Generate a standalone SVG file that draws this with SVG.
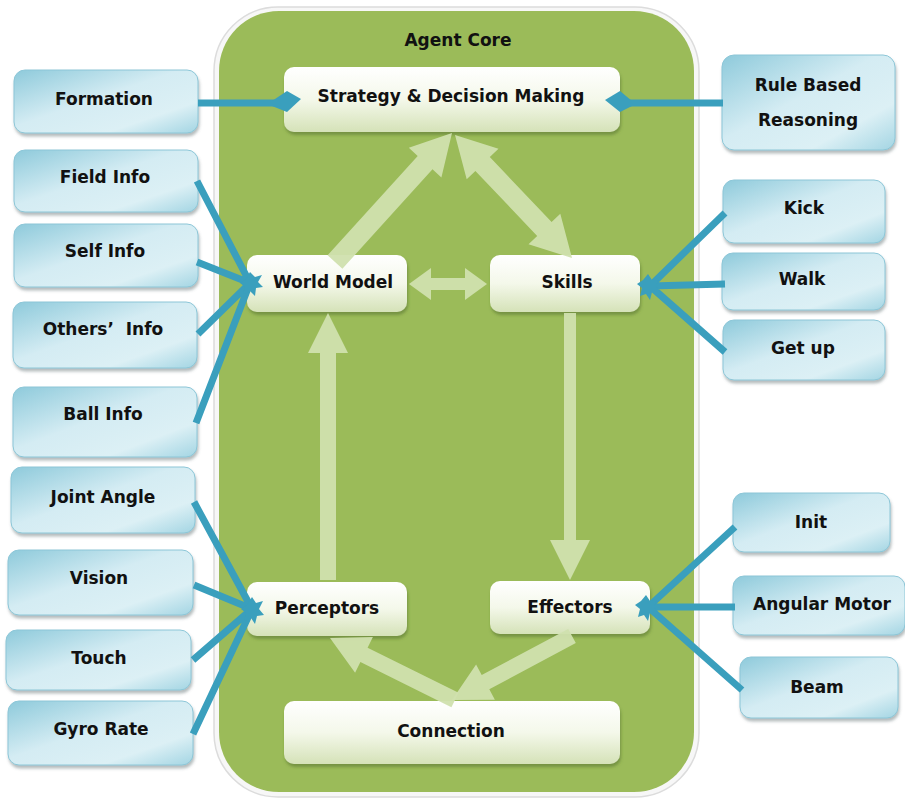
<svg xmlns="http://www.w3.org/2000/svg" width="905" height="801" viewBox="0 0 905 801">
<defs>
  <linearGradient id="blueG" x1="0" y1="0" x2="1" y2="1">
    <stop offset="0" stop-color="#8ecadb"/>
    <stop offset="0.45" stop-color="#d4ecf3"/>
    <stop offset="0.75" stop-color="#dcf0f5"/>
    <stop offset="1" stop-color="#a3d5e3"/>
  </linearGradient>
  <linearGradient id="creamG" x1="0" y1="0" x2="0" y2="1">
    <stop offset="0" stop-color="#ffffff"/>
    <stop offset="0.5" stop-color="#f4f8ea"/>
    <stop offset="1" stop-color="#d5e2b8"/>
  </linearGradient>
  <filter id="sh" x="-10%" y="-10%" width="125%" height="130%">
    <feDropShadow dx="1" dy="3" stdDeviation="1.5" flood-color="#5a6a70" flood-opacity="0.45"/>
  </filter>
  <filter id="shg" x="-10%" y="-10%" width="125%" height="130%">
    <feDropShadow dx="1" dy="3" stdDeviation="1.5" flood-color="#4f6a2a" flood-opacity="0.5"/>
  </filter>
</defs>
<style>
  .txt { font-family: "DejaVu Sans", "Liberation Sans", sans-serif; font-weight: bold; font-size: 17px; fill: #111; text-anchor: middle; white-space: pre; }
  .blue { fill: url(#blueG); stroke: #8cc6d7; stroke-width: 1; filter: url(#sh); }
  .cream { fill: url(#creamG); filter: url(#shg); }
  .link { stroke: #3a9fbd; stroke-width: 7; fill: none; stroke-linecap: butt; }
  .hub { fill: #3a9fbd; }
  .garrow { fill: #d0e0ae; opacity: 0.95; }
</style>

<g id="agent-core">
  <rect x="214" y="7" width="485" height="790" rx="64" fill="#f7f7f7" stroke="#dcdcdc" stroke-width="1.5"/>
  <rect x="219" y="11" width="475" height="781" rx="60" fill="#9bbb59"/>
  <text class="txt" x="458" y="46">Agent Core</text>
</g>

<g id="strategy">
  <rect class="cream" x="284" y="67" width="336" height="65" rx="10"/>
  <text class="txt" x="451" y="102">Strategy &amp; Decision Making</text>
</g>
<g id="world-model">
  <rect class="cream" x="247" y="255" width="160" height="57" rx="10"/>
  <text class="txt" x="333" y="288">World Model</text>
</g>
<g id="skills">
  <rect class="cream" x="490" y="255" width="150" height="57" rx="10"/>
  <text class="txt" x="567" y="288">Skills</text>
</g>
<g id="perceptors">
  <rect class="cream" x="247" y="582" width="160" height="54" rx="10"/>
  <text class="txt" x="327" y="614">Perceptors</text>
</g>
<g id="effectors">
  <rect class="cream" x="490" y="581" width="160" height="53" rx="10"/>
  <text class="txt" x="570" y="613">Effectors</text>
</g>
<g id="connection">
  <rect class="cream" x="284" y="701" width="336" height="63" rx="10"/>
  <text class="txt" x="451" y="737">Connection</text>
</g>

<g id="formation">
  <rect class="blue" x="14" y="70" width="184" height="63" rx="11"/>
  <text class="txt" x="104" y="105">Formation</text>
</g>
<g id="field-info">
  <rect class="blue" x="14" y="150" width="184" height="62" rx="11"/>
  <text class="txt" x="105" y="183">Field Info</text>
</g>
<g id="self-info">
  <rect class="blue" x="14" y="224" width="184" height="63" rx="11"/>
  <text class="txt" x="105" y="257">Self Info</text>
</g>
<g id="others-info">
  <rect class="blue" x="13" y="302" width="184" height="66" rx="11"/>
  <text class="txt" x="103" y="335">Others’  Info</text>
</g>
<g id="ball-info">
  <rect class="blue" x="13" y="387" width="184" height="70" rx="11"/>
  <text class="txt" x="103" y="420">Ball Info</text>
</g>
<g id="joint-angle">
  <rect class="blue" x="11" y="467" width="184" height="66" rx="11"/>
  <text class="txt" x="103" y="503">Joint Angle</text>
</g>
<g id="vision">
  <rect class="blue" x="8" y="550" width="185" height="65" rx="11"/>
  <text class="txt" x="99" y="584">Vision</text>
</g>
<g id="touch">
  <rect class="blue" x="6" y="630" width="185" height="60" rx="11"/>
  <text class="txt" x="99" y="664">Touch</text>
</g>
<g id="gyro-rate">
  <rect class="blue" x="8" y="701" width="185" height="64" rx="11"/>
  <text class="txt" x="101" y="735">Gyro Rate</text>
</g>

<g id="rule-based">
  <rect class="blue" x="722" y="55" width="173" height="95" rx="12"/>
  <text class="txt" x="808" y="91">Rule Based</text>
  <text class="txt" x="808" y="126">Reasoning</text>
</g>
<g id="kick">
  <rect class="blue" x="723" y="180" width="162" height="63" rx="11"/>
  <text class="txt" x="804" y="214">Kick</text>
</g>
<g id="walk">
  <rect class="blue" x="722" y="253" width="163" height="57" rx="11"/>
  <text class="txt" x="802" y="285">Walk</text>
</g>
<g id="get-up">
  <rect class="blue" x="723" y="320" width="162" height="60" rx="11"/>
  <text class="txt" x="803" y="354">Get up</text>
</g>
<g id="init">
  <rect class="blue" x="733" y="493" width="157" height="59" rx="11"/>
  <text class="txt" x="811" y="528">Init</text>
</g>
<g id="angular-motor">
  <rect class="blue" x="733" y="576" width="172" height="59" rx="11"/>
  <text class="txt" x="822" y="610">Angular Motor</text>
</g>
<g id="beam">
  <rect class="blue" x="740" y="657" width="158" height="61" rx="11"/>
  <text class="txt" x="817" y="693">Beam</text>
</g>

<g id="connectors">
  <!-- green internal arrows -->
  <polygon class="garrow" points="342.4,268.7 432.5,169.3 441.4,177.4 452,133 408.8,147.8 417.7,155.9 327.6,255.3"/>
  <polygon class="garrow" points="455,135 466.7,179.2 475.4,170.9 537.2,235.9 528.5,244.2 572,258 560.3,213.8 551.6,222.1 489.8,157.1 498.5,148.8"/>
  <polygon class="garrow" points="409,284 431,268 431,278 465,278 465,268 487,284 465,300 465,290 431,290 431,300"/>
  <polygon class="garrow" points="320,580 320,353 308,353 328,313 348,353 336,353 336,580"/>
  <polygon class="garrow" points="564,313 564,540 550,540 570,580 590,540 576,540 576,313"/>
  <polygon class="garrow" points="575.8,643.1 489.3,689.2 494.9,699.7 452,700 476.1,664.5 481.7,675.0 568.2,628.9"/>
  <polygon class="garrow" points="458.6,692.8 367.6,647.7 372.9,637.0 330,638 355.1,672.8 360.4,662.1 451.4,707.2"/>

  <!-- blue links -->
  <path class="link" d="M198,103 L276,103"/>
  <polygon class="hub" points="272,101 287,91 301,99 287,112 272,106"/>
  <path class="link" d="M723,103 L628,103"/>
  <polygon class="hub" points="632,101 620,91 605,100 620,112 632,106"/>

  <path class="link" d="M197,181 L250,283 M197,262 L250,283 M198,334 L250,283 M196,423 L250,283"/>
  <polygon class="hub" points="250,272 255,277 262,275 258,282 263,287 256,288 255,296 250,291 243,294 245,287 240,283 246,279"/>

  <path class="link" d="M725,213 L650,286 M725,284 L650,286 M725,352 L650,286"/>
  <polygon class="hub" points="648,274 652,280 659,278 656,286 660,292 652,292 650,300 646,294 640,296 642,288 637,284 643,280"/>

  <path class="link" d="M194,502 L252,609 M194,585 L252,609 M193,660 L252,609 M193,734 L252,609"/>
  <polygon class="hub" points="252,597 256,603 263,601 259,609 264,615 257,616 255,624 251,618 244,621 246,613 241,609 247,605"/>

  <path class="link" d="M735,527 L648,607 M735,607 L648,607 M742,690 L648,607"/>
  <polygon class="hub" points="646,595 650,601 657,599 654,607 658,613 650,613 648,621 644,615 638,617 640,609 635,605 641,601"/>
</g>
</svg>
